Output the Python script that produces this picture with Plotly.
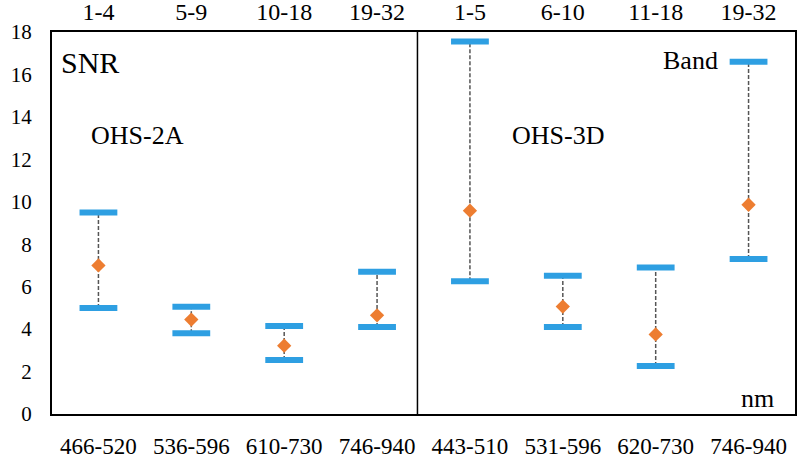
import plotly.graph_objects as go

band_labels = ["1-4", "5-9", "10-18", "19-32", "1-5", "6-10", "11-18", "19-32"]
wave_labels = ["466-520", "536-596", "610-730", "746-940",
               "443-510", "531-596", "620-730", "746-940"]
snr_max = [9.5, 5.05, 4.15, 6.7, 17.55, 6.52, 6.9, 16.6]
snr_min = [5.0, 3.8, 2.55, 4.1, 6.25, 4.1, 2.26, 7.3]
snr_mean = [7.0, 4.45, 3.22, 4.65, 9.58, 5.06, 3.75, 9.86]

xs = list(range(len(band_labels)))
FONT = "Liberation Serif"
BLUE = "#2E9FE2"
ORANGE = "#ED7D31"

fig = go.Figure()

# dashed range lines
lx, ly = [], []
for i in xs:
    lx += [i, i, None]
    ly += [snr_min[i], snr_max[i], None]
fig.add_trace(go.Scatter(x=lx, y=ly, mode="lines",
                         line=dict(color="#555555", width=1.5, dash="4px,2px"),
                         hoverinfo="skip", showlegend=False))
# max / min bars
for vals in (snr_max, snr_min):
    fig.add_trace(go.Scatter(x=xs, y=vals, mode="markers",
                             marker=dict(symbol="line-ew", size=27,
                                         line=dict(color=BLUE, width=6)),
                             showlegend=False))
# mean diamonds
fig.add_trace(go.Scatter(x=xs, y=snr_mean, mode="markers",
                         marker=dict(symbol="diamond", size=11, color=ORANGE,
                                     line=dict(width=0)),
                         showlegend=False))
# top axis trace (invisible) for band labels
fig.add_trace(go.Scatter(x=xs, y=snr_mean, xaxis="x2", mode="markers",
                         marker=dict(opacity=0), hoverinfo="skip", showlegend=False))

fig.update_layout(
    width=798, height=458,
    margin=dict(l=52, r=3, t=32, b=44),
    paper_bgcolor="white", plot_bgcolor="white",
    xaxis=dict(range=[-0.5, 7.5], tickmode="array", tickvals=xs, ticktext=wave_labels,
               showgrid=False, zeroline=False, showline=True, linecolor="black",
               linewidth=2, mirror=True, ticks="",
               tickfont=dict(size=23, family=FONT, color="black"),
               ticklabelstandoff=10, automargin=False),
    xaxis2=dict(range=[-0.5, 7.5], overlaying="x", side="top", tickmode="array",
                tickvals=xs, ticktext=band_labels, showgrid=False, zeroline=False,
                showline=False, ticks="",
                tickfont=dict(size=24, family=FONT, color="black"),
                ticklabelstandoff=6, automargin=False),
    yaxis=dict(range=[0, 18], dtick=2, tick0=0, showgrid=False, zeroline=False,
               showline=True, linecolor="black", linewidth=2, mirror=True, ticks="",
               tickfont=dict(size=21, family=FONT, color="black"),
               ticklabelstandoff=14, automargin=False),
)

fig.add_shape(type="line", x0=3.435, x1=3.435, y0=0, y1=18, xref="x", yref="y",
              line=dict(color="black", width=1.5))

ann = [
    ("SNR", -0.43, 16.55, 30),
    ("OHS-2A", -0.105, 13.1, 26),
    ("OHS-3D", 4.43, 13.1, 26),
    ("Band", 6.06, 16.65, 26),
    ("nm", 6.9, 0.75, 26),
]
for txt, x, y, s in ann:
    fig.add_annotation(text=txt, x=x, y=y, xref="x", yref="y", showarrow=False,
                       xanchor="left", yanchor="middle",
                       font=dict(size=s, family=FONT, color="black"))

fig.write_html("out.html")
